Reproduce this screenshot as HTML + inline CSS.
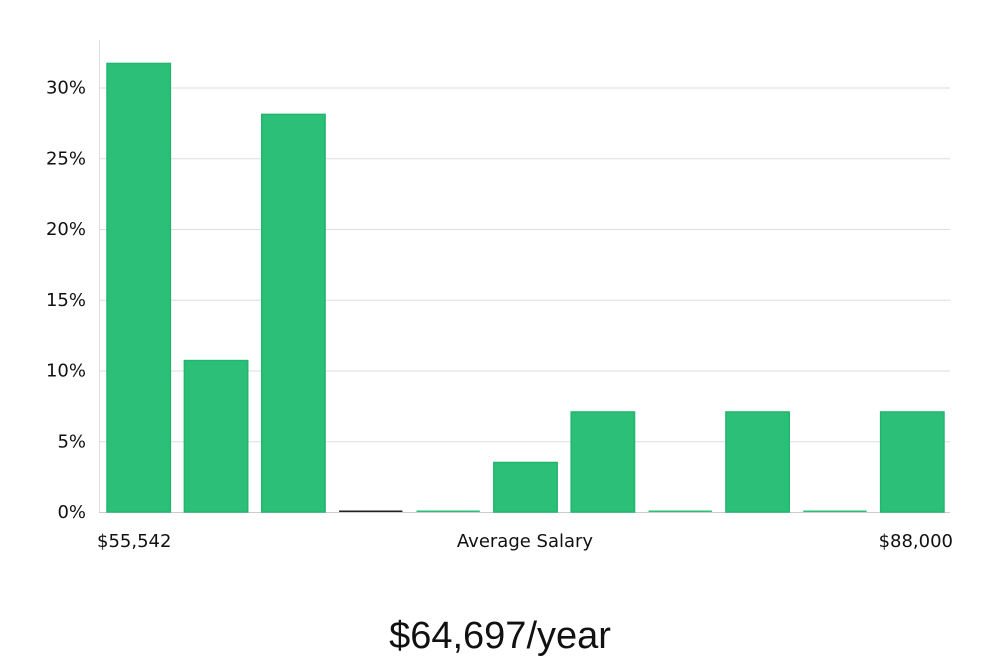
<!DOCTYPE html>
<html><head><meta charset="utf-8"><style>
html,body{margin:0;padding:0;background:#fff;}
body{width:1000px;height:660px;overflow:hidden;font-family:"DejaVu Sans","Liberation Sans",sans-serif;}
</style></head><body>
<svg id="chart" width="1000" height="660" xmlns="http://www.w3.org/2000/svg">
<g id="grid"></g><g id="bars"></g><g id="yticks"></g>
<line x1="99.5" y1="40" x2="99.5" y2="512" stroke="#ddd" stroke-width="1"/>
<text x="97" y="547" font-size="18" fill="#111">$55,542</text>
<text x="525" y="547" font-size="18" fill="#111" text-anchor="middle">Average Salary</text>
<text x="953" y="547" font-size="18" fill="#111" text-anchor="end">$88,000</text>
<text x="500" y="648" font-size="38" fill="#111" text-anchor="middle" font-family="Liberation Sans, sans-serif">$64,697/year</text>
</svg>
<script>
const values=[31.7,10.7,28.1,0,0,3.5,7.07,0,7.07,0,7.07];
const tickValues=[0,5,10,15,20,25,30];
const tickLabels=["0%","5%","10%","15%","20%","25%","30%"];
const NS="http://www.w3.org/2000/svg";
const x0=99,x1=950,y0=512,pxPer=14.15;
const y=v=>y0-v*pxPer;
const step=(x1-x0)/values.length;
const grid=document.getElementById('grid'),bars=document.getElementById('bars'),yt=document.getElementById('yticks');
tickValues.forEach((t,i)=>{
  const l=document.createElementNS(NS,'line');
  
  
  l.setAttribute('x1',x0);l.setAttribute('x2',x1);
  l.setAttribute('y1',y(t)+0.5);l.setAttribute('y2',y(t)+0.5);
  l.setAttribute('stroke',t===0?'#ccc':'#ddd');
  grid.appendChild(l);
  const tx=document.createElementNS(NS,'text');
  
  
  tx.setAttribute('x',86);tx.setAttribute('y',y(t)+6);
  tx.setAttribute('text-anchor','end');tx.setAttribute('font-size','18');tx.setAttribute('fill','#111');
  tx.textContent=tickLabels[i];
  yt.appendChild(tx);
});
values.forEach((v,i)=>{
  const bx=x0+i*step+8,bw=step-14;
  const h=Math.max(v*pxPer,1.5);
  const r=document.createElementNS(NS,'rect');
  
  
  r.setAttribute('x',bx);r.setAttribute('y',y0-h);
  r.setAttribute('width',bw);r.setAttribute('height',h);
  r.setAttribute('fill',(i===3)?'#222':'#2bbf78');
  if(v>0){r.setAttribute('stroke','#22b56e');r.setAttribute('stroke-width','1.5');}
  bars.appendChild(r);
});
</script>
</body></html>
